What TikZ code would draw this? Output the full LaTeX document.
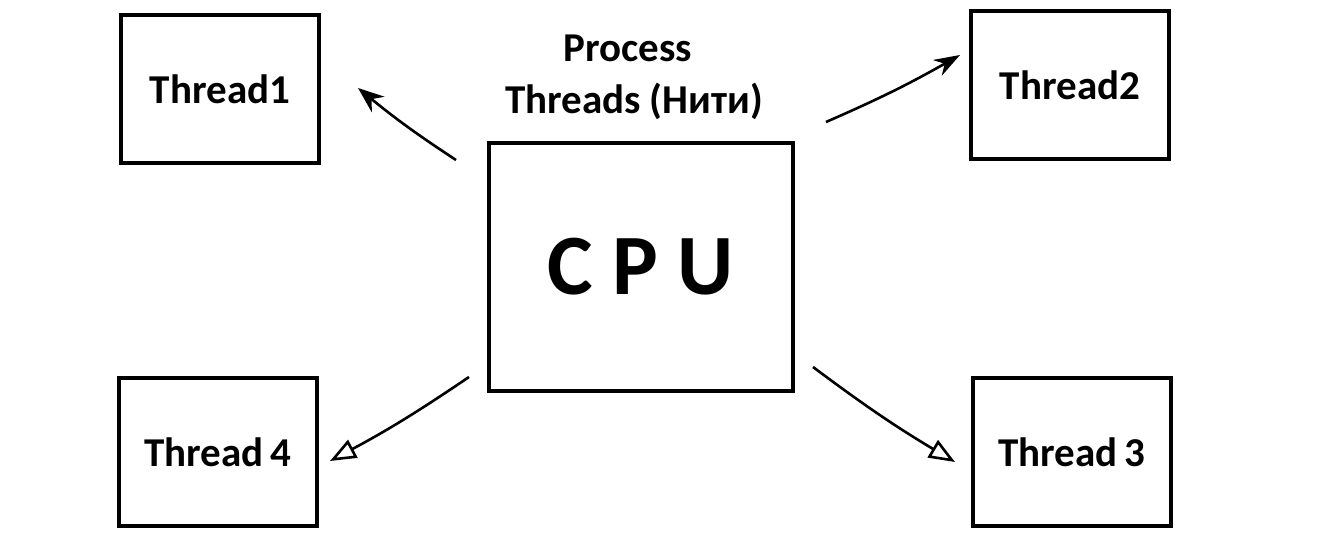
\documentclass[tikz,border=0pt]{standalone}
\usepackage{fontspec}
\setmainfont{Carlito}
\usetikzlibrary{arrows.meta}
\tikzstyle{thread box}=[draw, line width=3.5pt, minimum width=198pt, minimum height=148pt, font=\fontsize{41}{46}\selectfont\bfseries]
\tikzstyle{cpu box}=[draw, line width=3.5pt, minimum width=304pt, minimum height=248pt, font=\fontsize{86}{96}\selectfont\bfseries]
\tikzstyle{caption}=[font=\fontsize{41}{46}\selectfont\bfseries]
\tikzstyle{hand}=[line width=2.6pt]

\begin{document}
\begin{tikzpicture}[x=1pt,y=-1pt]
    \useasboundingbox (0,0) rectangle (1333,544);

    % Boxes
    \draw (641,267) node[cpu box] (cpu) {C P U};
    \draw (220,89) node[thread box] (t1) {Thread1};
    \draw (1070,85) node[thread box] (t2) {Thread2};
    \draw (1072,452) node[thread box] (t3) {Thread\,3};
    \draw (218,452) node[thread box] (t4) {Thread\,4};

    % Labels
    \draw (628,48) node[caption] (proc) {Process};
    \draw (634,101) node[caption] (thr) {Threads (Нити)};

    % Arrow ends
    \coordinate (a1) at (456,160);  \coordinate (b1) at (358,88);
    \coordinate (a2) at (826,122);  \coordinate (b2) at (960,55);
    \coordinate (a3) at (813,367);  \coordinate (b3) at (955,462);
    \coordinate (a4) at (469,377);  \coordinate (b4) at (330,461);

    % Arrows
    \draw[hand,-{Stealth[length=26pt,width=20pt]}] (a1) to[bend left=3] (b1);
    \draw[hand,-{Stealth[length=26pt,width=18pt]}] (a2) to[bend right=3] (b2);
    \draw[hand,-{Triangle[open,length=26pt,width=20pt]}] (a3) to[bend right=3] (b3);
    \draw[hand,-{Triangle[open,length=26pt,width=20pt]}] (a4) to[bend left=3] (b4);
\end{tikzpicture}
\end{document}
